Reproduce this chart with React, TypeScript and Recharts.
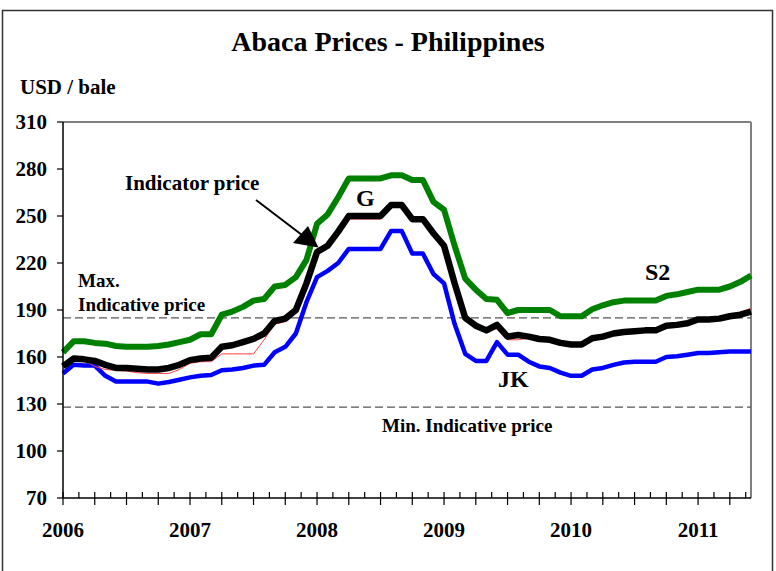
import React from 'react';
import { LineChart, Line, XAxis, YAxis, ReferenceLine } from 'recharts';

// Monthly observations, Jan 2006 .. Jun 2011 (USD / bale)
const months = [
  'Jan-06', 'Feb-06', 'Mar-06', 'Apr-06', 'May-06', 'Jun-06', 'Jul-06', 'Aug-06', 'Sep-06', 'Oct-06', 'Nov-06', 'Dec-06',
  'Jan-07', 'Feb-07', 'Mar-07', 'Apr-07', 'May-07', 'Jun-07', 'Jul-07', 'Aug-07', 'Sep-07', 'Oct-07', 'Nov-07', 'Dec-07',
  'Jan-08', 'Feb-08', 'Mar-08', 'Apr-08', 'May-08', 'Jun-08', 'Jul-08', 'Aug-08', 'Sep-08', 'Oct-08', 'Nov-08', 'Dec-08',
  'Jan-09', 'Feb-09', 'Mar-09', 'Apr-09', 'May-09', 'Jun-09', 'Jul-09', 'Aug-09', 'Sep-09', 'Oct-09', 'Nov-09', 'Dec-09',
  'Jan-10', 'Feb-10', 'Mar-10', 'Apr-10', 'May-10', 'Jun-10', 'Jul-10', 'Aug-10', 'Sep-10', 'Oct-10', 'Nov-10', 'Dec-10',
  'Jan-11', 'Feb-11', 'Mar-11', 'Apr-11', 'May-11', 'Jun-11',
];

const s2Price = [
  163, 170, 170, 169, 168.5, 167, 166.5, 166.5, 166.5, 167, 168, 169.5,
  171, 174.5, 174.5, 187, 189, 192, 196, 197, 205, 206, 211, 222,
  245, 251, 262, 274, 274, 274, 274, 276, 276, 273, 273, 259,
  254, 231, 210, 203, 197, 196.5, 188, 190, 190, 190, 190, 186,
  186, 186, 190.5, 193, 195, 196, 196, 196, 196, 199, 200, 201.5,
  203, 203, 203, 205, 208, 212,
];

const indicatorPrice = [
  154, 159, 158.5, 157.5, 155, 153, 153, 152.5, 152, 152, 153, 155,
  158, 159, 159.5, 166.5, 167.5, 169.5, 171.5, 175, 183, 184.5, 190, 207,
  227, 231, 240, 250, 250, 250, 250, 257, 257, 248, 248, 239,
  231, 207, 185, 180, 177, 180.5, 173, 174, 173, 171.5, 171, 169,
  168, 168, 172, 173, 175, 176, 176.5, 177, 177, 180, 180.5, 181.5,
  184, 184, 184.5, 186, 187, 189,
];

const gPrice = [
  154, 158, 158, 154, 152, 151.5, 151, 150, 149.5, 149.5, 149.5, 152,
  156, 157, 157, 162, 162, 162, 162, 171, 181, 182.5, 189, 207,
  227, 229.5, 238, 248, 248, 248, 248, 257, 257, 246.5, 246.5, 238,
  230, 206, 184, 179, 176, 178, 171, 171, 172, 171, 170.5, 168.5,
  167.5, 167.5, 172, 173, 175, 176, 176.5, 177, 177, 180, 181, 182,
  184, 184.5, 185, 187, 188.5, 191,
];

const jkPrice = [
  149.5, 155, 154.5, 154.5, 148, 144.3, 144.3, 144.3, 144.3, 143, 144, 145.5,
  147, 148, 148.5, 151.5, 152, 153, 154.5, 155, 163, 166.5, 175, 195,
  211, 215, 220, 229, 229, 229, 229, 240.5, 240.5, 226, 226, 213,
  207, 181, 162, 157.5, 157.5, 169.5, 161.5, 161.5, 157, 154, 153, 150,
  148, 148, 152, 153, 155, 156.5, 157, 157, 157, 160, 160.5, 161.5,
  162.5, 162.5, 163, 163.5, 163.5, 163.5,
];

const yearLabels = ['2006', '2007', '2008', '2009', '2010', '2011'];
const yTicks = [70, 100, 130, 160, 190, 220, 250, 280, 310];
// tick marks every month and a half (major every quarter)
const xTicks = [
  0, 1.5, 3, 4.5, 6, 7.5, 9, 10.5, 12, 13.5, 15, 16.5, 18, 19.5, 21, 22.5,
  24, 25.5, 27, 28.5, 30, 31.5, 33, 34.5, 36, 37.5, 39, 40.5, 42, 43.5, 45, 46.5,
  48, 49.5, 51, 52.5, 54, 55.5, 57, 58.5, 60, 61.5, 63, 64.5,
];
const maxIndicative = 185;
const minIndicative = 128;

const data = months.map((m, i) => ({
  t: i,
  month: m,
  s2: s2Price[i],
  indicator: indicatorPrice[i],
  g: gPrice[i],
  jk: jkPrice[i],
}));

const FONT = '"Liberation Serif", "Times New Roman", serif';

const XTick = (props: any) => {
  const { x, y, payload } = props;
  const v = payload.value as number;
  const major = v % 3 === 0;
  return (
    <g>
      <line x1={x} x2={x} y1={y - 6} y2={major ? y + 7 : y} stroke="#000" strokeWidth={1.2} />
      {v % 12 === 0 && (
        <text x={x} y={y + 39} textAnchor="middle" fontFamily={FONT} fontWeight="bold" fontSize={21} fill="#000">
          {yearLabels[v / 12]}
        </text>
      )}
    </g>
  );
};

const txt = { fontFamily: FONT, fontWeight: 'bold' as const, fill: '#000' };

export default function App() {
  return (
    <div style={{ position: 'absolute', left: 0, top: 0, width: 776, height: 571, background: '#fff' }}>
      <LineChart width={776} height={571} data={data} margin={{ top: 122, right: 25, bottom: 33, left: 0 }}>
        <XAxis
          dataKey="t"
          type="number"
          domain={[0, 65]}
          ticks={xTicks}
          interval={0}
          tickLine={false}
          tickSize={0}
          tickMargin={0}
          height={40}
          axisLine={{ stroke: '#000', strokeWidth: 1.5 }}
          tick={<XTick />}
        />
        <YAxis
          type="number"
          domain={[70, 310]}
          ticks={yTicks}
          interval={0}
          width={63}
          tickSize={6}
          tickMargin={10}
          axisLine={{ stroke: '#000', strokeWidth: 1.5 }}
          tickLine={{ stroke: '#000', strokeWidth: 1.2 }}
          tick={{ ...txt, fontSize: 21 }}
        />
        <ReferenceLine y={310} stroke="#808080" strokeWidth={2} />
        <ReferenceLine x={65} stroke="#808080" strokeWidth={2} />
        <ReferenceLine y={maxIndicative} stroke="#555" strokeWidth={1.2} strokeDasharray="8 4" />
        <ReferenceLine y={minIndicative} stroke="#555" strokeWidth={1.2} strokeDasharray="8 4" />
        <Line type="linear" dataKey="s2" stroke="#008000" strokeWidth={6} dot={false} strokeLinejoin="round" isAnimationActive={false} />
        <Line type="linear" dataKey="jk" stroke="#0000ff" strokeWidth={4.5} dot={false} strokeLinejoin="round" isAnimationActive={false} />
        <Line type="linear" dataKey="g" stroke="#ff4040" strokeWidth={1} dot={false} isAnimationActive={false} />
        <Line type="linear" dataKey="indicator" stroke="#000" strokeWidth={6.5} dot={false} strokeLinejoin="round" isAnimationActive={false} />
      </LineChart>
      <svg width={776} height={571} style={{ position: 'absolute', left: 0, top: 0, pointerEvents: 'none' }}>
        <path d="M2.5 571 L2.5 10.5 L772.5 10.5 L772.5 571" fill="none" stroke="#333" strokeWidth={1.5} />
        <text x={388} y={51} textAnchor="middle" fontSize={28} {...txt}>Abaca Prices - Philippines</text>
        <text x={20} y={94} fontSize={21} {...txt}>USD / bale</text>
        <text x={125} y={190} fontSize={21} {...txt}>Indicator price</text>
        <line x1={256} y1={200} x2={302} y2={235} stroke="#000" strokeWidth={2} />
        <polygon points="293,243 308,226 318.5,247.5" fill="#000" />
        <text x={356} y={206} fontSize={24} {...txt}>G</text>
        <text x={645} y={280} fontSize={24} {...txt}>S2</text>
        <text x={498} y={387} fontSize={24} {...txt}>JK</text>
        <text x={78} y={287} fontSize={19} {...txt}>Max.</text>
        <text x={78} y={311} fontSize={19} {...txt}>Indicative price</text>
        <text x={382} y={432} fontSize={19} {...txt}>Min. Indicative price</text>
      </svg>
    </div>
  );
}
